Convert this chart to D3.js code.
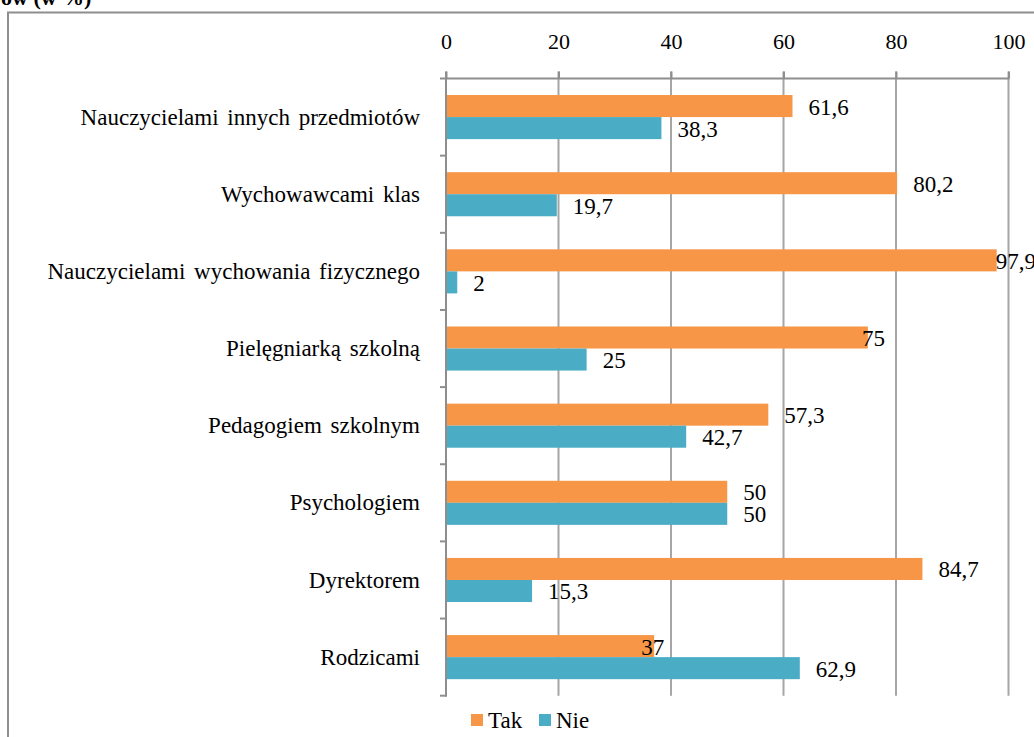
<!DOCTYPE html>
<html>
<head>
<meta charset="utf-8">
<script src="https://cdn.jsdelivr.net/npm/d3@7/dist/d3.min.js"></script>
</head>
<body style="margin:0;padding:0;background:#fff">
<svg id="s" width="1034" height="737"></svg>
<script>
const categories = [
  "Nauczycielami innych przedmiotów",
  "Wychowawcami klas",
  "Nauczycielami wychowania fizycznego",
  "Pielęgniarką szkolną",
  "Pedagogiem szkolnym",
  "Psychologiem",
  "Dyrektorem",
  "Rodzicami"
];
const seriesNames = ["Tak", "Nie"];
const takValues = [61.6, 80.2, 97.9, 75, 57.3, 50, 84.7, 37];
const nieValues = [38.3, 19.7, 2, 25, 42.7, 50, 15.3, 62.9];
const tickValues = [0, 20, 40, 60, 80, 100];
const titleText = "ów (w %)";

const FONT = '"Liberation Serif", serif';

const colors = { Tak: "#F79646", Nie: "#4BACC6" };
const seriesValues = { Tak: takValues, Nie: nieValues };
// labels that were moved by hand in the original (category index + series -> dx)
const labelShift = { "3-Tak": -22, "7-Tak": -29 };

const svg = d3.select("#s");
const W = 1034, H = 737;

function serif(sel, size, weight) {
  return sel.style("font-family", FONT).style("font-size", size + "px")
    .style("font-weight", weight || "normal").attr("fill", "#000");
}

svg.append("path")
  .attr("d", `M8,${H + 5} L8,12.5 L${W + 5},12.5`)
  .attr("fill", "none").attr("stroke", "#8e8e8e").attr("stroke-width", 2);

serif(svg.append("text").attr("x", 1).attr("y", 5), 22, "bold").text(titleText);

const x = d3.scaleLinear().domain([0, 100]).range([446, 1008.5]);
const y0 = d3.scaleBand().domain(categories).range([78.5, 695.7]).padding(0);
const y1 = d3.scaleBand().domain(seriesNames).range([0, y0.bandwidth()]).paddingInner(0).paddingOuter(0.75);

const plotTop = 78.5, plotBottom = 695.7;

svg.append("g").selectAll("line").data(tickValues.slice(1)).join("line")
  .attr("x1", d => x(d)).attr("x2", d => x(d))
  .attr("y1", plotTop - 7).attr("y2", plotBottom)
  .attr("stroke", "#a6a6a6").attr("stroke-width", 2);

const xAxis = d3.axisTop(x).tickValues(tickValues).tickSize(7).tickPadding(23)
  .tickFormat(d => String(d));
const gx = svg.append("g").attr("transform", `translate(0,${plotTop})`).call(xAxis);
gx.attr("font-family", null).attr("font-size", null);
gx.select(".domain").remove();
gx.selectAll(".tick line").attr("stroke", "#8e8e8e").attr("stroke-width", 2);
serif(gx.selectAll(".tick text"), 22);
gx.append("line").attr("x1", 440).attr("x2", x(100) + 1).attr("y1", 0).attr("y2", 0)
  .attr("stroke", "#8e8e8e").attr("stroke-width", 2);

const groups = svg.append("g").selectAll("g").data(categories).join("g")
  .attr("transform", d => `translate(0,${y0(d)})`);

groups.selectAll("rect")
  .data((c, i) => seriesNames.map(s => ({ s, v: seriesValues[s][i] })))
  .join("rect")
  .attr("x", x(0) + 1)
  .attr("y", d => y1(d.s))
  .attr("width", d => x(d.v) - x(0) - 1)
  .attr("height", y1.bandwidth())
  .attr("fill", d => colors[d.s]);

const yAxis = d3.axisLeft(y0).tickSize(0).tickPadding(26).tickFormat(d => d);
const gy = svg.append("g").attr("transform", `translate(${x(0)},0)`).call(yAxis);
gy.attr("font-family", null).attr("font-size", null);
gy.select(".domain").remove();
serif(gy.selectAll(".tick text"), 23).style("word-spacing", "3px").attr("dy", "0.33em");
gy.append("line").attr("x1", 0).attr("x2", 0).attr("y1", plotTop - 7).attr("y2", plotBottom + 1)
  .attr("stroke", "#8e8e8e").attr("stroke-width", 2);
gy.selectAll(".cat-tick").data(categories).join("line").attr("class", "cat-tick")
  .attr("x1", -6).attr("x2", 0)
  .attr("y1", d => y0(d) + y0.bandwidth()).attr("y2", d => y0(d) + y0.bandwidth())
  .attr("stroke", "#8e8e8e").attr("stroke-width", 2);

serif(groups.selectAll("text.val")
  .data((c, i) => seriesNames.map(s => ({ s, i, v: seriesValues[s][i] })))
  .join("text").attr("class", "val"), 23)
  .attr("y", d => y1(d.s) + y1.bandwidth() / 2 + 8.5)
  .text(d => String(d.v).replace(".", ","))
  .each(function (d) {
    const w = this.getComputedTextLength();
    const shift = labelShift[d.i + "-" + d.s] || 0;
    const xx = Math.min(x(d.v) + 16 + shift, W + 2 - w);
    d3.select(this).attr("x", xx);
  });

const legend = svg.append("g").attr("transform", "translate(471,714)");
const li = legend.selectAll("g").data(seriesNames).join("g")
  .attr("transform", (d, i) => `translate(${i * 68},0)`);
li.append("rect").attr("width", 12).attr("height", 12).attr("fill", d => colors[d]);
serif(li.append("text").attr("x", 17).attr("y", 14), 23).text(d => d);
</script>
</body>
</html>
